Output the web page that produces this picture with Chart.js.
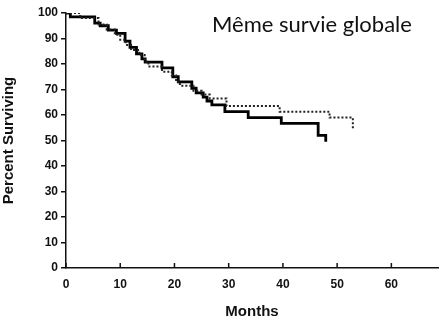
<!DOCTYPE html>
<html>
<head>
<meta charset="utf-8">
<script src="https://cdn.jsdelivr.net/npm/chart.js@4.4.1/dist/chart.umd.min.js"></script>
<style>
  body { margin: 0; background: #fff; }
  #wrap { position: relative; width: 439px; height: 321px; }
  #note { position: absolute; left: 212px; top: 13px; font-family: Lato, "Open Sans", sans-serif; font-size: 22px; line-height: 22px; color: #111; white-space: nowrap; }
</style>
</head>
<body>
<div id="wrap">
  <canvas id="km" width="439" height="321"></canvas>
  <div id="note">Même survie globale</div>
</div>
<script>
// Kaplan-Meier steps (month of drop, survival after drop)
const solidMonths = [0, 0.8, 5.3, 6.3, 7.8, 9.3, 10.9, 11.8, 13, 14, 14.6, 17.7, 19.7, 20.7, 23.2, 24, 25.3, 26, 26.9, 29.3, 33.6, 39.7, 46.5, 47.9];
const solidSurv   = [100, 98.5, 96, 95, 93.3, 92, 89, 86.5, 84, 82, 80.7, 78.5, 75, 73, 70.5, 68.7, 67, 65.5, 64, 61.3, 59, 56.7, 52, 49.5];

const dottedMonths = [0, 2.6, 6, 7.5, 9, 10, 11, 12, 13.5, 14.5, 15.2, 17.7, 19.5, 20.3, 21, 23.5, 25, 26.5, 29.6, 39.4, 48.6, 52.9];
const dottedSurv   = [100, 98, 95.5, 93.5, 91.5, 89.5, 87.5, 85.5, 83.5, 81, 79, 77, 75.5, 73, 71.5, 69.5, 68, 66.5, 63.5, 61.3, 59, 54];

const xTicks = [0, 10, 20, 30, 40, 50, 60];
const yTicks = [0, 10, 20, 30, 40, 50, 60, 70, 80, 90, 100];

const toPoints = (xs, ys) => xs.map((x, i) => ({ x, y: ys[i] }));

// x-axis tick marks point up into the plot
const innerTicks = {
  id: "innerTicks",
  afterDraw(chart) {
    const { ctx, scales: { x } } = chart;
    ctx.save();
    ctx.strokeStyle = "#111";
    ctx.lineWidth = 1.5;
    x.ticks.forEach(t => {
      const px = x.getPixelForValue(t.value);
      ctx.beginPath();
      ctx.moveTo(px, x.top);
      ctx.lineTo(px, x.top - 5);
      ctx.stroke();
    });
    ctx.restore();
  }
};

const labelFont = { family: "'Liberation Sans', Arial, sans-serif", size: 12, weight: "bold" };
const titleFont = { family: "'Liberation Sans', Arial, sans-serif", size: 15, weight: "bold" };

new Chart(document.getElementById("km"), {
  type: "line",
  data: {
    datasets: [
      {
        label: "A",
        data: toPoints(dottedMonths, dottedSurv),
        stepped: true,
        borderColor: "#222",
        borderWidth: 2,
        borderDash: [2, 2],
        pointRadius: 0,
        fill: false
      },
      {
        label: "B",
        data: toPoints(solidMonths, solidSurv),
        stepped: true,
        borderColor: "#000",
        borderWidth: 2.8,
        pointRadius: 0,
        fill: false
      }
    ]
  },
  options: {
    responsive: false,
    animation: false,
    layout: { padding: { top: 13, right: 1, left: 0, bottom: 0 } },
    plugins: { legend: { display: false }, tooltip: { enabled: false } },
    scales: {
      x: {
        type: "linear",
        min: 0,
        max: 68.6,
        afterBuildTicks: s => { s.ticks = xTicks.map(v => ({ value: v })); },
        afterFit: s => { s.height = 53; },
        grid: { display: false, drawTicks: false },
        border: { display: true, color: "#111", width: 1.5 },
        ticks: { color: "#111", font: labelFont, padding: 9, maxRotation: 0 },
        title: { display: true, text: "Months", color: "#111", font: titleFont, padding: { top: 3, bottom: 0 } }
      },
      y: {
        min: 0,
        max: 100,
        afterBuildTicks: s => { s.ticks = yTicks.map(v => ({ value: v })); },
        afterFit: s => { s.width = 66; },
        grid: { drawOnChartArea: false, drawTicks: true, tickLength: 5, color: "#111", lineWidth: 1.5 },
        border: { display: true, color: "#111", width: 1.5 },
        ticks: { color: "#111", font: labelFont, padding: 3 },
        title: { display: true, text: "Percent Surviving", color: "#111", font: titleFont, padding: { top: 0, bottom: 2 } }
      }
    }
  },
  plugins: [innerTicks]
});
</script>
</body>
</html>
